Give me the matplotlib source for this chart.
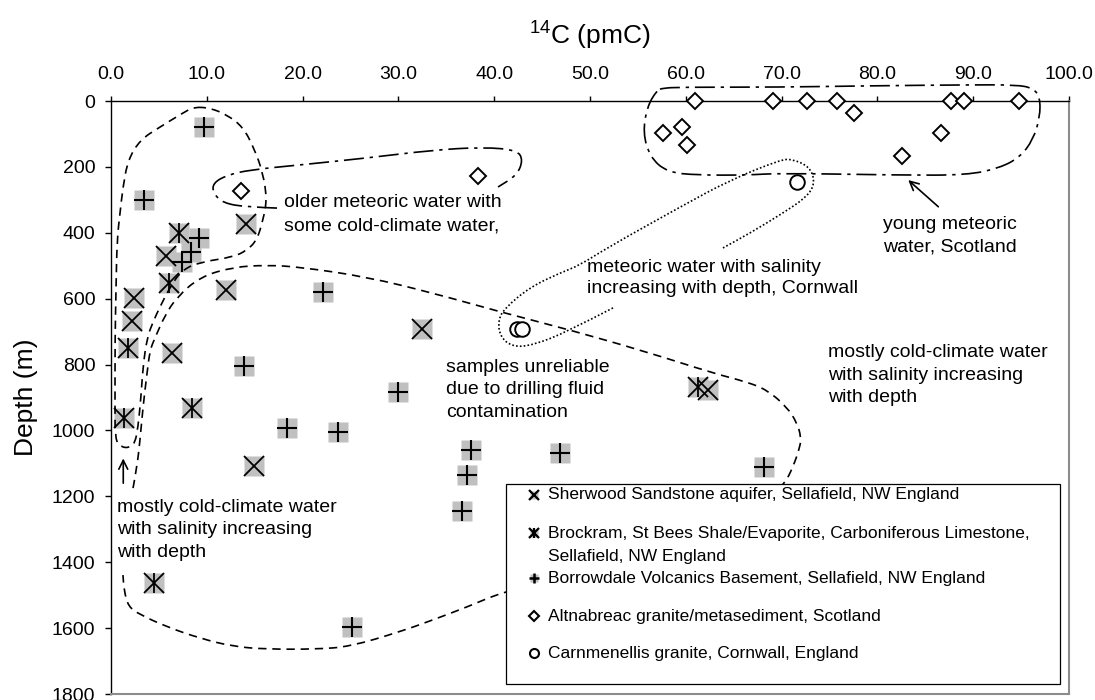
import matplotlib
matplotlib.use('Agg')
import matplotlib.pyplot as plt
from matplotlib.path import Path
from matplotlib.patches import PathPatch, Rectangle
from matplotlib.ticker import FormatStrFormatter

plt.rcParams['font.family'] = ['Liberation Sans', 'DejaVu Sans']
plt.rcParams['mathtext.fontset'] = 'custom'
plt.rcParams['mathtext.rm'] = 'Liberation Sans'
plt.rcParams['mathtext.it'] = 'Liberation Sans:italic'

# ---- samples: 14C (pmC) vs depth (m) ----
sherwood_c14 = [14.06, 5.74, 11.97, 2.43, 2.16, 32.43, 6.34, 62.35, 14.96]
sherwood_depth = [374, 470, 574, 599, 669, 693, 766, 877, 1107]

brockram_c14 = [7.07, 6.09, 1.81, 8.49, 1.39, 61.3, 4.52]
brockram_depth = [400, 552, 751, 933, 963, 867, 1464]

borrowdale_c14 = [9.74, 3.48, 9.15, 8.32, 7.38, 22.16, 13.88, 29.99, 18.34,
                  23.66, 37.55, 37.19, 36.6, 46.87, 68.19, 25.13]
borrowdale_depth = [78, 300, 417, 457, 488, 581, 803, 882, 994,
                    1004, 1059, 1136, 1244, 1069, 1110, 1596]

altnabreac_c14 = [60.96, 69.13, 72.62, 75.82, 87.65, 89.04, 94.8, 77.56,
                  86.67, 82.57, 57.65, 59.57, 60.16, 13.6, 38.28]
altnabreac_depth = [0, 0, 0, 0, 0, 0, 0, 36,
                    96, 167, 98, 78, 134, 272, 227]

carn_c14 = [71.58, 42.35, 42.87]
carn_depth = [245, 691, 691]

legend_labels = ['Sherwood Sandstone aquifer, Sellafield, NW England',
                 'Brockram, St Bees Shale/Evaporite, Carboniferous Limestone,\nSellafield, NW England',
                 'Borrowdale Volcanics Basement, Sellafield, NW England',
                 'Altnabreac granite/metasediment, Scotland',
                 'Carnmenellis granite, Cornwall, England']

# ---- hand drawn envelopes (pmC, depth) ----
env_upper_x = [8.66, 7.52, 5.11, 3.03, 1.77, 1.25, 0.94, 0.63, 0.52, 0.42, 0.42, 0.42,
               1.04, 1.88, 2.51, 2.82, 3.13, 3.34, 3.76, 4.38, 5.11, 6.16, 7.41, 9.29,
               12.73, 14.2, 15.24, 15.87, 16.28, 15.87, 14.93, 13.78, 12.11, 10.33]
env_upper_y = [18, 36, 79, 118, 179, 261, 340, 422, 574, 726, 908, 1029,
               1050, 1053, 1038, 990, 898, 807, 719, 671, 625, 565, 513, 489,
               474, 453, 422, 361, 300, 219, 143, 79, 42, 21]

env_big_x = [2.30, 2.71, 3.03, 3.34, 3.76, 4.07, 4.59, 5.64, 6.89, 9.29, 12.73, 16.28,
             19.73, 26.72, 33.61, 40.61, 47.91, 55.95, 62.84, 66.39, 68.48, 70.56,
             71.61, 72.03, 71.92, 71.19, 70.35, 67.75, 56.26, 46.87, 40.92, 37.16,
             33.61, 30.17, 24.95, 21.47, 16.25, 12.77, 9.29, 5.81, 3.03, 1.8, 1.36, 1.25]
env_big_y = [1175, 1111, 1029, 929, 826, 756, 719, 650, 595, 534, 504, 498,
             504, 534, 583, 640, 695, 762, 826, 853, 877, 929,
             977, 1020, 1050, 1111, 1160, 1241, 1378, 1448, 1490, 1536,
             1575, 1611, 1656, 1664, 1664, 1656, 1631, 1596, 1559, 1535, 1484, 1439]

env_older_x = [17.33, 14.2, 11.69, 10.65, 10.65, 12.11, 14.51, 19.73, 26.72, 33.61,
               38.83, 42.38, 43.01, 42.38, 40.4]
env_older_y = [325, 322, 310, 279, 249, 225, 209, 194, 173, 149,
               140, 149, 179, 225, 261]

env_young_x = [57.62, 59.39, 69.83, 78.91, 89.35, 94.57, 96.24, 96.97, 96.97, 96.24,
               94.89, 92.8, 89.35, 82.36, 69.83, 66.39, 61.17, 58.04, 56.26, 55.53,
               55.95, 56.99]
env_young_y = [-39, -42, -42, -46, -49, -49, -39, -12, 49, 118,
               170, 203, 225, 225, 219, 225, 225, 216, 170, 97,
               18, -33]

env_cornwall_x = [52.4, 47.6, 44.05, 41.96, 40.61, 40.4, 41.13, 43.74, 46.87, 48.96,
                  51.77, 59.39, 64.61, 69.83, 71.09, 72.96, 73.49, 72.65, 70.15, 66.7, 63.88]
env_cornwall_y = [628, 701, 741, 747, 716, 665, 628, 565, 522, 498,
                  446, 322, 240, 179, 176, 200, 249, 291, 340, 401, 446]


def smooth_path(xs, ys, closed=False):
    pts = list(zip(xs, ys))
    n = len(pts)
    mid = lambda a, b: ((a[0] + b[0]) / 2, (a[1] + b[1]) / 2)
    if closed:
        verts = [mid(pts[-1], pts[0])]
        codes = [Path.MOVETO]
        for i in range(n):
            verts += [pts[i], mid(pts[i], pts[(i + 1) % n])]
            codes += [Path.CURVE3, Path.CURVE3]
    else:
        verts = [pts[0]]
        codes = [Path.MOVETO]
        for i in range(1, n - 1):
            verts += [pts[i], mid(pts[i], pts[i + 1])]
            codes += [Path.CURVE3, Path.CURVE3]
        verts.append(pts[-1])
        codes.append(Path.LINETO)
    return Path(verts, codes)


fig = plt.figure(figsize=(10.95, 7.0), dpi=100)
ax = fig.add_axes([0.10137, 0.00857, 0.87489, 0.84714])

dash = (0, (5, 3.5))
dashdot = (0, (12, 3.5, 2, 3.5))
dotted = (0, (1, 1.3))
for xs, ys, closed, ls in [(env_upper_x, env_upper_y, True, dash),
                           (env_big_x, env_big_y, False, dash),
                           (env_older_x, env_older_y, False, dashdot),
                           (env_young_x, env_young_y, True, dashdot),
                           (env_cornwall_x, env_cornwall_y, False, dotted)]:
    ax.add_patch(PathPatch(smooth_path(xs, ys, closed), fill=False, lw=1.2,
                           ls=ls, edgecolor='black', zorder=3, clip_on=False))

# gray squares behind Sellafield samples
grey = '#c0c0c0'
for xs, ys in [(sherwood_c14, sherwood_depth), (brockram_c14, brockram_depth),
               (borrowdale_c14, borrowdale_depth)]:
    ax.plot(xs, ys, ls='none', marker='s', ms=14.4, mfc=grey, mec='none', zorder=2)

ax.plot(sherwood_c14, sherwood_depth, ls='none', marker='x', ms=14, mew=1.3, color='k', zorder=4)
ax.plot(brockram_c14, brockram_depth, ls='none', marker='x', ms=14, mew=1.3, color='k', zorder=4)
ax.plot(brockram_c14, brockram_depth, ls='none', marker='|', ms=14, mew=1.3, color='k', zorder=4)
ax.plot(borrowdale_c14, borrowdale_depth, ls='none', marker='+', ms=14.4, mew=1.5, color='k', zorder=4)
ax.plot(altnabreac_c14, altnabreac_depth, ls='none', marker='D', ms=7.8, mfc='white', mec='k',
        mew=1.4, zorder=5, clip_on=False)
ax.plot(carn_c14, carn_depth, ls='none', marker='o', ms=10.5, mfc='white', mec='k', mew=1.4, zorder=5)

# annotations
tk = dict(fontsize=14, linespacing=1.45, va='center', ha='left', zorder=6)
ax.text(18.06, 344, 'older meteoric water with\nsome cold-climate water,', **tk)
ax.text(49.65, 536, 'meteoric water with salinity\nincreasing with depth, Cornwall',
        **dict(tk, linespacing=1.3))
ax.text(80.55, 409, 'young meteoric\nwater, Scotland', **tk)
ax.text(34.97, 877, 'samples unreliable\ndue to drilling fluid\ncontamination', **tk)
ax.text(74.87, 832, 'mostly cold-climate water\nwith salinity increasing\nwith depth', **tk)
ax.text(0.66, 1302, 'mostly cold-climate water\nwith salinity increasing\nwith depth', **tk)
arrow = dict(arrowstyle='->', lw=1.2, color='k', mutation_scale=16, shrinkA=0, shrinkB=0)
ax.annotate('', xy=(83.22, 240), xytext=(86.36, 321), arrowprops=arrow)
ax.annotate('', xy=(1.28, 1085), xytext=(1.28, 1160), arrowprops=arrow)

# legend box (Excel style)
ax.add_patch(Rectangle((0.4123, 0.0169), 0.5783, 0.3372, transform=ax.transAxes,
                       facecolor='white', edgecolor='black', lw=0.9, zorder=10))
row_y = [0.3356, 0.2710, 0.1951, 0.1315, 0.0686]
line_step = 0.0395
mx, tx = 0.4415, 0.4562
lk = dict(transform=ax.transAxes, zorder=11, clip_on=False, ls='none')
ax.plot(mx, row_y[0], marker='s', ms=6, mfc=grey, mec='none', **lk)
ax.plot(mx, row_y[0], marker='x', ms=6.5, mew=1.6, color='k', **lk)
ax.plot(mx, row_y[1], marker='s', ms=6, mfc=grey, mec='none', **lk)
ax.plot(mx, row_y[1], marker='x', ms=6.5, mew=1.6, color='k', **lk)
ax.plot(mx, row_y[1], marker='|', ms=6.5, mew=1.6, color='k', **lk)
ax.plot(mx, row_y[2], marker='s', ms=6, mfc=grey, mec='none', **lk)
ax.plot(mx, row_y[2], marker='+', ms=7, mew=1.8, color='k', **lk)
ax.plot(mx, row_y[3], marker='D', ms=4.6, mfc='white', mec='k', mew=1.5, **lk)
ax.plot(mx, row_y[4], marker='o', ms=6.5, mfc='white', mec='k', mew=1.5, **lk)
for y, lab in zip(row_y, legend_labels):
    for j, part in enumerate(lab.split('\n')):
        ax.text(tx, y - j * line_step, part, transform=ax.transAxes, fontsize=12.5,
                va='center', ha='left', zorder=11)

# axes
ax.set_xlim(0, 100)
ax.set_ylim(1800, 0)
ax.xaxis.tick_top()
ax.xaxis.set_label_position('top')
ax.set_xticks(range(0, 101, 10))
ax.xaxis.set_major_formatter(FormatStrFormatter('%.1f'))
ax.set_yticks(range(0, 1801, 200))
ax.tick_params(axis='x', direction='out', length=3.6, width=1, labelsize=14, pad=9.5)
ax.tick_params(axis='y', direction='out', length=4.3, width=1, labelsize=14, pad=7)
ax.set_xlabel(r'$^{14}$C (pmC)', fontsize=19, labelpad=15)
ax.set_ylabel('Depth (m)', fontsize=19, labelpad=10)
for s in ['top', 'left']:
    ax.spines[s].set_color('black')
    ax.spines[s].set_linewidth(1.0)
for s in ['right', 'bottom']:
    ax.spines[s].set_color('#8c8c8c')
    ax.spines[s].set_linewidth(1.5)

fig.savefig('out.png', dpi=100)
